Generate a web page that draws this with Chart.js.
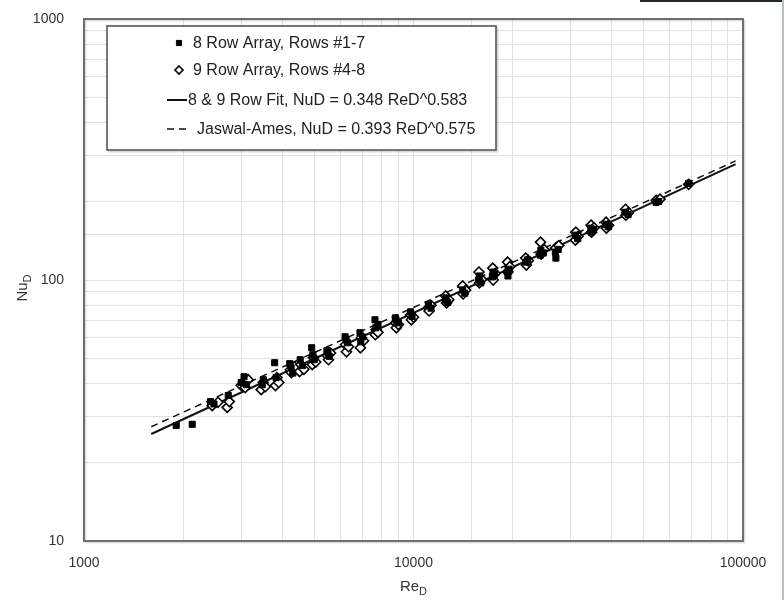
<!DOCTYPE html>
<html>
<head>
<meta charset="utf-8">
<script src="https://cdn.jsdelivr.net/npm/chart.js@4.4.1/dist/chart.umd.min.js"></script>
<style>
  html, body { margin: 0; padding: 0; background: #fff; }
  #wrap { position: relative; width: 784px; height: 600px; }
  #topbar { position: absolute; left: 640px; top: 0; width: 144px; height: 2px; background: #1e2a33; }
  #rightbar { position: absolute; left: 782px; top: 0; width: 2px; height: 600px; background: #b9bec2; }
</style>
</head>
<body>
<div id="wrap">
  <canvas id="c" width="784" height="600"></canvas>
  <div id="topbar"></div>
  <div id="rightbar"></div>
</div>
<script>
// ---- data ----
const re8 = [1905, 2130, 2420, 2480, 2740, 3000, 3060, 3110, 3475, 3500, 3790, 3830, 4210, 4250, 4300, 4530, 4600, 4910, 4950, 5000, 5460, 5500, 5550, 6200, 6240, 6300, 6880, 6920, 7000, 7640, 7680, 7800, 8810, 8850, 9000, 9800, 9900, 11100, 11300, 12500, 12560, 12700, 14100, 14300, 15750, 15850, 16000, 17350, 17450, 17600, 19250, 19350, 19500, 21900, 22200, 24250, 24350, 24800, 26950, 27050, 27500, 31000, 31500, 34550, 34650, 35200, 38400, 39000, 44000, 44800, 54500, 55500, 68400];
const nu8 = [27.7, 28.0, 34.2, 33.5, 36.1, 40.5, 42.6, 39.7, 39.7, 41.5, 48.2, 42.3, 47.8, 46.1, 44.0, 49.5, 47.0, 55.0, 51.7, 49.5, 53.6, 52.6, 51.0, 60.6, 59.0, 57.5, 62.8, 58.0, 60.5, 70.4, 65.6, 67.5, 71.6, 70.4, 68.5, 75.5, 72.5, 80.3, 78.0, 83.9, 85.4, 82.0, 91.6, 89.0, 100.0, 103.6, 97.5, 102.7, 107.3, 105.0, 107.3, 103.6, 110.0, 117.1, 119.5, 124.6, 130.2, 127.0, 127.9, 121.3, 131.0, 148.5, 144.0, 158.0, 152.5, 156.0, 163.6, 160.0, 181.8, 178.0, 198.5, 200.0, 234.6];

const re9 = [2450, 2550, 2720, 2760, 3000, 3085, 3150, 3450, 3500, 3550, 3810, 3850, 3900, 4230, 4260, 4350, 4510, 4550, 4650, 4930, 4970, 5050, 5480, 5520, 5600, 6220, 6260, 6350, 6900, 6950, 7050, 7660, 7700, 7800, 8830, 8870, 9000, 9800, 9850, 10000, 11100, 11150, 11300, 12530, 12600, 12800, 14100, 14150, 14400, 15800, 15850, 16100, 17400, 17450, 17700, 19300, 19350, 19600, 21900, 22000, 22300, 24300, 24400, 24900, 27000, 27600, 31000, 31100, 31600, 34600, 34700, 35300, 38400, 38500, 39100, 44000, 44100, 44900, 54500, 56000, 68400];
const nu9 = [33.0, 34.0, 32.5, 34.2, 39.5, 38.7, 41.5, 38.0, 40.5, 39.0, 39.4, 42.3, 40.5, 45.3, 44.2, 46.5, 44.6, 47.4, 45.5, 47.4, 50.4, 48.5, 51.3, 49.5, 52.5, 56.5, 53.1, 55.5, 55.0, 60.1, 58.5, 61.7, 64.5, 63.0, 68.5, 65.6, 67.5, 73.5, 70.4, 72.0, 78.2, 76.1, 80.0, 86.9, 81.7, 84.0, 94.9, 88.4, 91.5, 107.3, 97.4, 100.5, 111.1, 100.0, 106.0, 117.1, 107.3, 112.5, 121.3, 114.1, 118.5, 139.6, 125.7, 131.0, 132.5, 135.5, 142.1, 152.5, 147.0, 162.2, 152.5, 158.5, 166.5, 158.0, 162.0, 186.6, 177.1, 181.0, 202.0, 204.0, 232.5];

const fitRe = [1600, 95000];
const fitNu = [25.7, 278];
const jaRe = [1600, 95000];
const jaNu = [27.4, 286];

const seriesNames = [
  "8 Row Array, Rows #1-7",
  "9 Row Array, Rows #4-8",
  "8 & 9 Row Fit, NuD = 0.348 ReD^0.583",
  "Jaswal-Ames, NuD = 0.393 ReD^0.575"
];
const xRange = [1000, 100000];
const yRange = [10, 1000];
const xTitle = ["Re", "D"];
const yTitle = ["Nu", "D"];

const pts = (xs, ys) => xs.map((x, i) => ({ x: x, y: ys[i] }));
const FONT = "'Liberation Sans', Arial, sans-serif";

const bgPlugin = {
  id: 'bg',
  beforeDraw(chart) {
    const ctx = chart.ctx;
    ctx.save();
    ctx.fillStyle = '#fff';
    ctx.fillRect(0, 0, chart.width, chart.height);
    ctx.restore();
  }
};

const framePlugin = {
  id: 'frame',
  afterDatasetsDraw(chart) {
    const { ctx, chartArea: a } = chart;
    ctx.save();
    ctx.strokeStyle = 'rgba(0,0,0,0.12)';
    ctx.lineWidth = 2;
    ctx.strokeRect(a.left + 1.5, a.top + 1.5, a.right - a.left, a.bottom - a.top);
    ctx.strokeStyle = '#6e6e6e';
    ctx.lineWidth = 2;
    ctx.strokeRect(a.left, a.top, a.right - a.left, a.bottom - a.top);
    ctx.restore();
  }
};

const legendPlugin = {
  id: 'boxLegend',
  afterDraw(chart) {
    const ctx = chart.ctx;
    const a = chart.chartArea;
    const bx = a.left + 23, by = a.top + 7, bw = 389, bh = 124;
    ctx.save();
    ctx.strokeStyle = 'rgba(0,0,0,0.15)';
    ctx.lineWidth = 2;
    ctx.strokeRect(bx + 1.5, by + 1.5, bw, bh);
    ctx.fillStyle = '#fff';
    ctx.fillRect(bx, by, bw, bh);
    ctx.strokeStyle = '#555';
    ctx.lineWidth = 1.6;
    ctx.strokeRect(bx, by, bw, bh);

    ctx.font = '16px ' + FONT;
    ctx.fillStyle = '#222';
    ctx.textBaseline = 'middle';
    ctx.textAlign = 'left';
    const rows = [by + 17, by + 44, by + 74, by + 103];
    const ds = chart.data.datasets;
    [0, 1].forEach(i => {
      const d = ds[i];
      ctx.fillStyle = d.backgroundColor;
      ctx.strokeStyle = d.borderColor;
      ctx.lineWidth = d.borderWidth;
      ctx.beginPath();
      if (d.pointStyle === 'rect') {
        const s = d.pointRadius * Math.SQRT1_2 * 0.85;
        ctx.rect(bx + 72 - s, rows[i] - s, 2 * s, 2 * s);
        ctx.fill(); ctx.stroke();
      } else {
        const r = d.pointRadius * 0.8;
        ctx.moveTo(bx + 72, rows[i] - r);
        ctx.lineTo(bx + 72 + r, rows[i]);
        ctx.lineTo(bx + 72, rows[i] + r);
        ctx.lineTo(bx + 72 - r, rows[i]);
        ctx.closePath();
        ctx.fill(); ctx.stroke();
      }
      ctx.fillStyle = '#222';
      ctx.fillText(seriesNames[i], bx + 86, rows[i] + 1);
    });
    [2, 3].forEach(i => {
      const d = ds[i];
      ctx.strokeStyle = d.borderColor;
      ctx.lineWidth = d.borderWidth;
      ctx.setLineDash(d.borderDash || []);
      ctx.beginPath();
      ctx.moveTo(bx + 60, rows[i]);
      ctx.lineTo(bx + 80, rows[i]);
      ctx.stroke();
      ctx.setLineDash([]);
      ctx.fillStyle = '#222';
      ctx.fillText(seriesNames[i], bx + (i === 2 ? 81 : 90), rows[i] + 1);
    });

    // axis titles with subscripts
    ctx.fillStyle = '#333';
    ctx.textBaseline = 'alphabetic';
    const cx = (a.left + a.right) / 2;
    ctx.font = '15px ' + FONT;
    const w1 = ctx.measureText(xTitle[0]).width;
    ctx.font = '11px ' + FONT;
    const w2 = ctx.measureText(xTitle[1]).width;
    const sx = cx - (w1 + w2) / 2;
    ctx.font = '15px ' + FONT;
    ctx.fillText(xTitle[0], sx, 591);
    ctx.font = '11px ' + FONT;
    ctx.fillText(xTitle[1], sx + w1, 595);

    ctx.translate(27, (a.top + a.bottom) / 2 + 8);
    ctx.rotate(-Math.PI / 2);
    ctx.font = '15px ' + FONT;
    const v1 = ctx.measureText(yTitle[0]).width;
    ctx.font = '11px ' + FONT;
    const v2 = ctx.measureText(yTitle[1]).width;
    const sy = -(v1 + v2) / 2;
    ctx.font = '15px ' + FONT;
    ctx.fillText(yTitle[0], sy, 0);
    ctx.font = '11px ' + FONT;
    ctx.fillText(yTitle[1], sy + v1, 4);
    ctx.restore();
  }
};

const isDecade = v => {
  const p = Math.pow(10, Math.round(Math.log10(v)));
  return Math.abs(v - p) < 1e-6 * p;
};

new Chart(document.getElementById('c'), {
  type: 'scatter',
  data: {
    datasets: [
      {
        label: seriesNames[0], data: pts(re8, nu8), pointStyle: 'rect',
        pointRadius: 4.3, backgroundColor: '#000', borderColor: '#000', borderWidth: 1, order: 0
      },
      {
        label: seriesNames[1], data: pts(re9, nu9), pointStyle: 'rectRot',
        pointRadius: 5, backgroundColor: '#fff', borderColor: '#000', borderWidth: 1.6, order: 1
      },
      {
        label: seriesNames[2], data: pts(fitRe, fitNu), showLine: true, pointRadius: 0,
        borderColor: '#111', borderWidth: 2, backgroundColor: '#111', order: 2
      },
      {
        label: seriesNames[3], data: pts(jaRe, jaNu), showLine: true, pointRadius: 0,
        borderColor: '#111', borderWidth: 1.5, borderDash: [7, 5], backgroundColor: '#111', order: 3
      }
    ]
  },
  options: {
    responsive: false,
    animation: false,
    devicePixelRatio: 1,
    layout: { padding: { top: 19, right: 41, left: 0, bottom: 0 } },
    plugins: { legend: { display: false }, tooltip: { enabled: false } },
    scales: {
      x: {
        type: 'logarithmic', min: xRange[0], max: xRange[1],
        afterFit: s => { s.height = 59; s.paddingLeft = 0; s.paddingRight = 0; },
        border: { display: false },
        grid: { color: '#e2e2e2', lineWidth: 1, drawTicks: false },
        ticks: {
          color: '#333', font: { family: FONT, size: 14 }, padding: 14,
          autoSkip: false, maxRotation: 0,
          callback: v => isDecade(v) ? String(Math.round(v)) : ''
        }
      },
      y: {
        type: 'logarithmic', min: yRange[0], max: yRange[1],
        afterFit: s => { s.width = 84; s.paddingTop = 0; s.paddingBottom = 0; },
        border: { display: false },
        grid: { color: '#e2e2e2', lineWidth: 1, drawTicks: false },
        ticks: {
          color: '#333', font: { family: FONT, size: 14 }, padding: 20,
          autoSkip: false,
          callback: v => isDecade(v) ? String(Math.round(v)) : ''
        }
      }
    }
  },
  plugins: [bgPlugin, framePlugin, legendPlugin]
});
</script>
</body>
</html>
